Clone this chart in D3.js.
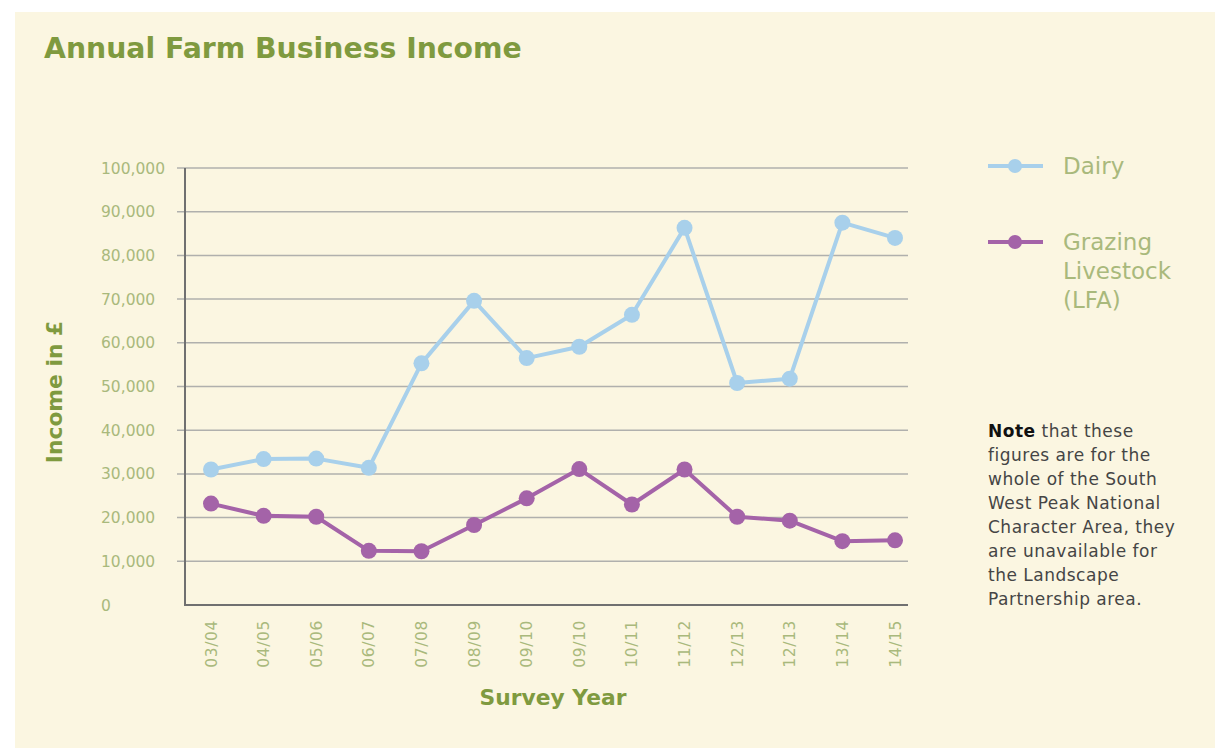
<!DOCTYPE html>
<html>
<head>
<meta charset="utf-8">
<script src="https://cdn.jsdelivr.net/npm/d3@7"></script>
<style>
  body { margin: 0; background: #ffffff; }
  svg { display: block; }
</style>
</head>
<body>
<div id="chart"></div>
<script>
// Chart data
var years = ["03/04", "04/05", "05/06", "06/07", "07/08", "08/09", "09/10",
             "09/10", "10/11", "11/12", "12/13", "12/13", "13/14", "14/15"];
var dairy = [31000, 33400, 33500, 31400, 55300, 69600, 56500,
             59100, 66400, 86300, 50800, 51800, 87500, 84000];
var grazing = [23200, 20400, 20200, 12400, 12300, 18300, 24400,
               31100, 23000, 31000, 20200, 19300, 14600, 14800];
var yTicks = [0, 10000, 20000, 30000, 40000, 50000, 60000, 70000, 80000, 90000, 100000];
var series = [
  { name: ["Dairy"], values: dairy, color: "#a8d0eb" },
  { name: ["Grazing", "Livestock", "(LFA)"], values: grazing, color: "#a463a8" }
];
var noteLines = [
  [["Note", true], [" that these", false]],
  [["figures are for the", false]],
  [["whole of the South", false]],
  [["West Peak National", false]],
  [["Character Area, they", false]],
  [["are unavailable for", false]],
  [["the Landscape", false]],
  [["Partnership area.", false]]
];

var width = 1215, height = 750;
var green = "#7f9a3f", lightGreen = "#a9b97c";
var font = "'DejaVu Sans', 'Open Sans', sans-serif";

var svg = d3.select("#chart").append("svg")
  .attr("width", width)
  .attr("height", height)
  .style("font-family", font);

// cream panel
svg.append("rect")
  .attr("x", 15).attr("y", 12)
  .attr("width", width - 15).attr("height", 736)
  .attr("fill", "#fbf6e1");

// title
svg.append("text")
  .attr("x", 44).attr("y", 58)
  .attr("fill", green)
  .attr("font-size", 28.3)
  .attr("font-weight", 700)
  .text("Annual Farm Business Income");

var plotLeft = 185, plotRight = 908, plotTop = 168, plotBottom = 605;

var x = d3.scalePoint()
  .domain(d3.range(years.length))
  .range([211, 895]);

var y = d3.scaleLinear()
  .domain([0, 100000])
  .range([plotBottom, plotTop]);

// gridlines
svg.append("g")
  .selectAll("line")
  .data(yTicks.slice(1))
  .enter().append("line")
  .attr("x1", plotLeft - 8).attr("x2", plotRight)
  .attr("y1", d => y(d)).attr("y2", d => y(d))
  .attr("stroke", "#b0b0ad")
  .attr("stroke-width", 1.5);

// y tick labels (left-aligned)
svg.append("g")
  .selectAll("text")
  .data(yTicks)
  .enter().append("text")
  .attr("x", 101)
  .attr("y", d => y(d) + 5.5)
  .attr("fill", lightGreen)
  .attr("font-size", 15.5)
  .text(d => d3.format(",")(d));

// axes lines
svg.append("line")
  .attr("x1", plotLeft).attr("x2", plotLeft)
  .attr("y1", plotTop).attr("y2", plotBottom)
  .attr("stroke", "#707070").attr("stroke-width", 2);
svg.append("line")
  .attr("x1", plotLeft - 1).attr("x2", plotRight)
  .attr("y1", plotBottom).attr("y2", plotBottom)
  .attr("stroke", "#707070").attr("stroke-width", 2);

// x tick labels, rotated
svg.append("g")
  .selectAll("text")
  .data(years)
  .enter().append("text")
  .attr("transform", (d, i) => "translate(" + (x(i) + 5.5) + "," + 620 + ") rotate(-90)")
  .attr("text-anchor", "end")
  .attr("fill", lightGreen)
  .attr("font-size", 15.5)
  .attr("letter-spacing", 0.6)
  .text(d => d);

// axis titles
svg.append("text")
  .attr("x", 553).attr("y", 705)
  .attr("text-anchor", "middle")
  .attr("fill", green)
  .attr("font-size", 21.8)
  .attr("font-weight", 700)
  .text("Survey Year");

svg.append("text")
  .attr("transform", "translate(62,392) rotate(-90)")
  .attr("text-anchor", "middle")
  .attr("fill", green)
  .attr("font-size", 21.8)
  .attr("font-weight", 700)
  .text("Income in £");

// lines and points
var line = d3.line()
  .x((d, i) => x(i))
  .y(d => y(d));

series.forEach(function(s) {
  svg.append("path")
    .datum(s.values)
    .attr("d", line)
    .attr("fill", "none")
    .attr("stroke", s.color)
    .attr("stroke-width", 4)
    .attr("stroke-linejoin", "round");

  svg.append("g")
    .selectAll("circle")
    .data(s.values)
    .enter().append("circle")
    .attr("cx", (d, i) => x(i))
    .attr("cy", d => y(d))
    .attr("r", 8)
    .attr("fill", s.color);
});

// legend
var legendY = [166, 242];
series.forEach(function(s, k) {
  var g = svg.append("g").attr("transform", "translate(0," + legendY[k] + ")");
  g.append("line")
    .attr("x1", 988).attr("x2", 1043)
    .attr("stroke", s.color).attr("stroke-width", 4);
  g.append("circle")
    .attr("cx", 1015).attr("r", 7)
    .attr("fill", s.color);
  s.name.forEach(function(t, j) {
    g.append("text")
      .attr("x", 1063).attr("y", 7.5 + j * 29)
      .attr("fill", lightGreen)
      .attr("font-size", 23)
      .text(t);
  });
});

// note
var note = svg.append("text")
  .attr("fill", "#454545")
  .attr("font-size", 17)
  .attr("letter-spacing", 0.5);
noteLines.forEach(function(parts, i) {
  var first = true;
  parts.forEach(function(p) {
    var ts = note.append("tspan").text(p[0]);
    if (first) ts.attr("x", 988).attr("y", 437 + i * 24);
    if (p[1]) ts.attr("font-weight", 700).attr("fill", "#111");
    first = false;
  });
});
</script>
</body>
</html>
